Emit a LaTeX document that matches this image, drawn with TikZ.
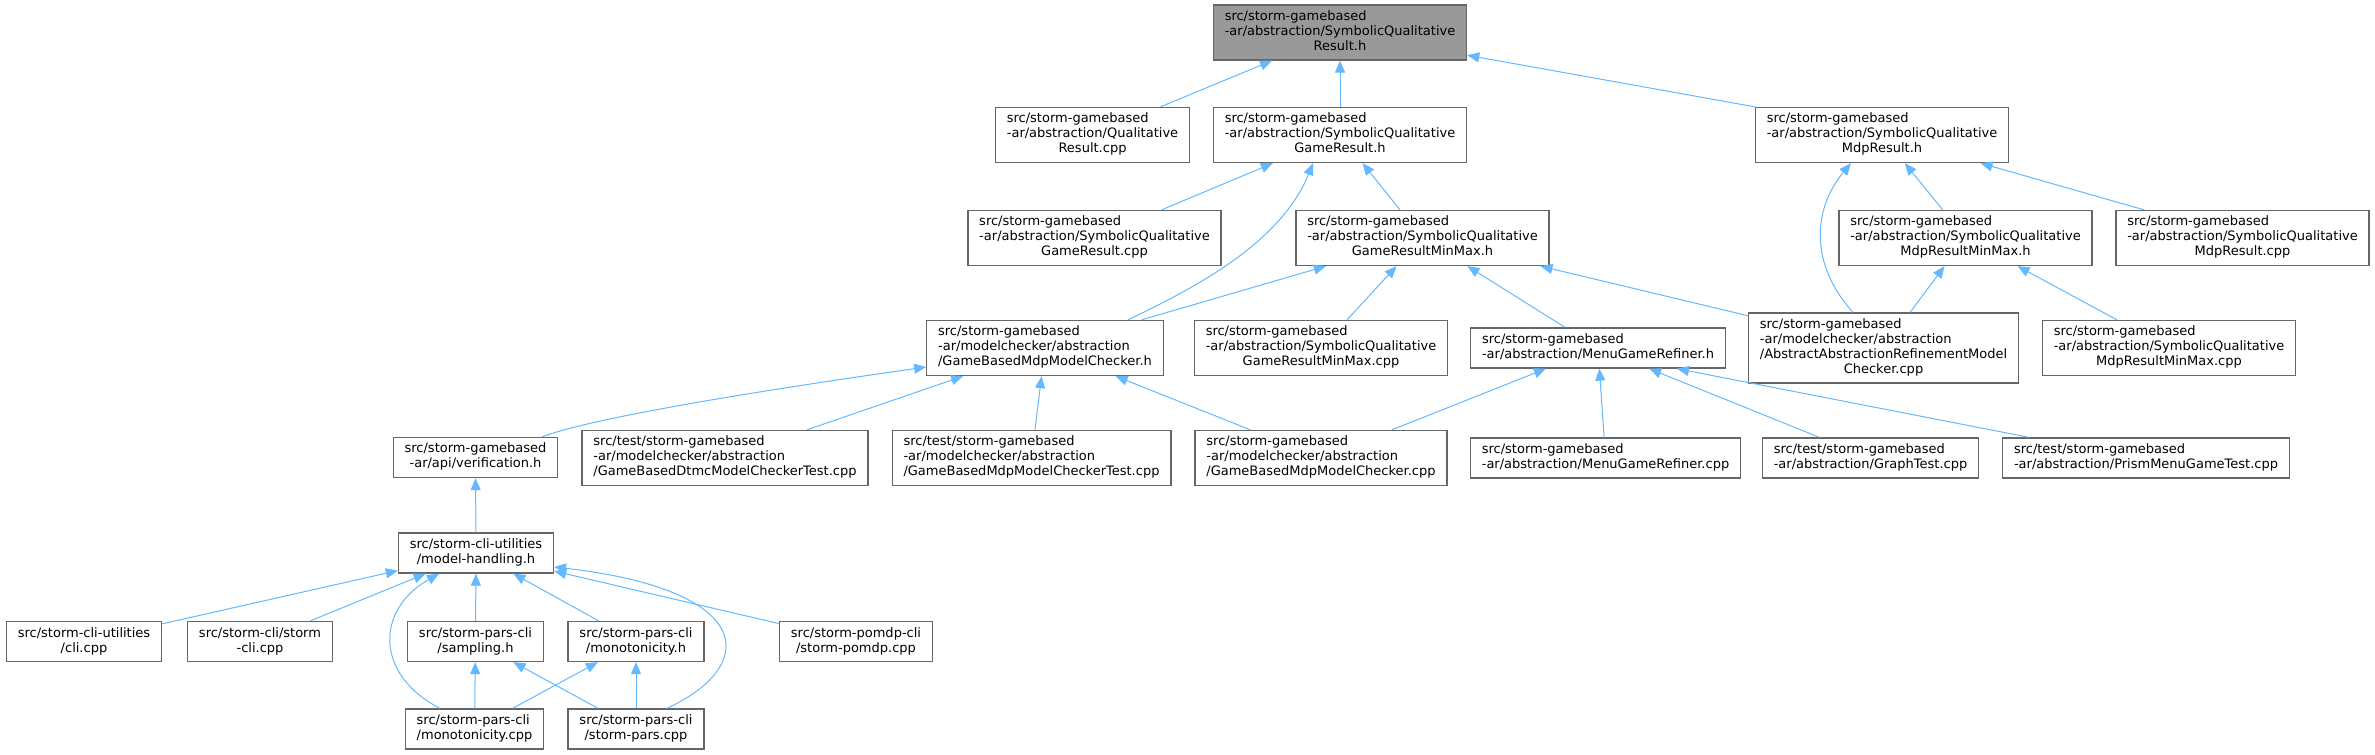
\documentclass[tikz,border=0pt]{standalone}
\usepackage{fontspec}
\setmainfont{DejaVu Sans}
\usepackage{tikz}
\usetikzlibrary{arrows.meta}
\definecolor{edgeblue}{HTML}{63B8FF}
\definecolor{boxgray}{HTML}{666666}
\definecolor{rootgray}{HTML}{999999}
% file name: all lines left, last line centred
\newcommand{\fname}[2]{\begin{tabular}{@{}l@{}}#1\\\multicolumn{1}{@{}c@{}}{#2}\end{tabular}}
\tikzset{
  file/.style={draw=boxgray, line width=1pt, fill=white, inner xsep=8.5pt, inner ysep=3.75pt,
    font=\fontsize{9.75}{11.25}\selectfont},
  rootfile/.style={file, fill=rootgray},
  inc/.style={edgeblue, line width=0.75pt, -{Triangle[length=9pt,width=7.5pt]}}
}

\begin{document}
\begin{tikzpicture}[x=0.75pt, y=-0.75pt]
            \useasboundingbox (0,0) rectangle (2375,755);
            % Draw the header and its direct includers
            \node[rootfile] (root) at (1340,32.5) {\fname{src/storm-gamebased\\-ar/abstraction/SymbolicQualitative}{Result.h}};
            \node[file] (qualcpp) at (1092.5,135) {\fname{src/storm-gamebased\\-ar/abstraction/Qualitative}{Result.cpp}};
            \node[file] (gameh) at (1340,135) {\fname{src/storm-gamebased\\-ar/abstraction/SymbolicQualitative}{GameResult.h}};
            \node[file] (mdph) at (1882,135) {\fname{src/storm-gamebased\\-ar/abstraction/SymbolicQualitative}{MdpResult.h}};
            % Third row
            \node[file] (gamecpp) at (1094.5,238) {\fname{src/storm-gamebased\\-ar/abstraction/SymbolicQualitative}{GameResult.cpp}};
            \node[file] (gameminmaxh) at (1422.5,238) {\fname{src/storm-gamebased\\-ar/abstraction/SymbolicQualitative}{GameResultMinMax.h}};
            \node[file] (mdpminmaxh) at (1965.5,238) {\fname{src/storm-gamebased\\-ar/abstraction/SymbolicQualitative}{MdpResultMinMax.h}};
            \node[file] (mdpcpp) at (2242.5,238) {\fname{src/storm-gamebased\\-ar/abstraction/SymbolicQualitative}{MdpResult.cpp}};
            % Fourth row
            \node[file] (gbmch) at (1045,348) {\fname{src/storm-gamebased\\-ar/modelchecker/abstraction}{/GameBasedMdpModelChecker.h}};
            \node[file] (gameminmaxcpp) at (1321,348) {\fname{src/storm-gamebased\\-ar/abstraction/SymbolicQualitative}{GameResultMinMax.cpp}};
            \node[file] (refinerh) at (1598,348) {\fname{src/storm-gamebased}{-ar/abstraction/MenuGameRefiner.h}};
            \node[file] (abstractcpp) at (1883.5,348) {\fname{src/storm-gamebased\\-ar/modelchecker/abstraction\\/AbstractAbstractionRefinementModel}{Checker.cpp}};
            \node[file] (mdpminmaxcpp) at (2169,348) {\fname{src/storm-gamebased\\-ar/abstraction/SymbolicQualitative}{MdpResultMinMax.cpp}};
            % Fifth row
            \node[file] (verifh) at (475.5,457.5) {\fname{src/storm-gamebased}{-ar/api/verification.h}};
            \node[file] (dtmctest) at (725,458) {\fname{src/test/storm-gamebased\\-ar/modelchecker/abstraction}{/GameBasedDtmcModelCheckerTest.cpp}};
            \node[file] (mdptest) at (1031.5,458) {\fname{src/test/storm-gamebased\\-ar/modelchecker/abstraction}{/GameBasedMdpModelCheckerTest.cpp}};
            \node[file] (gbmccpp) at (1321,458) {\fname{src/storm-gamebased\\-ar/modelchecker/abstraction}{/GameBasedMdpModelChecker.cpp}};
            \node[file] (refinercpp) at (1605.5,458) {\fname{src/storm-gamebased}{-ar/abstraction/MenuGameRefiner.cpp}};
            \node[file] (graphtest) at (1870.5,458) {\fname{src/test/storm-gamebased}{-ar/abstraction/GraphTest.cpp}};
            \node[file] (prismtest) at (2146,458) {\fname{src/test/storm-gamebased}{-ar/abstraction/PrismMenuGameTest.cpp}};
            % The cli part
            \node[file] (handlingh) at (476,553) {\fname{src/storm-cli-utilities}{/model-handling.h}};
            \node[file] (clicpp) at (84,641.5) {\fname{src/storm-cli-utilities}{/cli.cpp}};
            \node[file] (stormcli) at (260,641.5) {\fname{src/storm-cli/storm}{-cli.cpp}};
            \node[file] (samplingh) at (475.5,641.5) {\fname{src/storm-pars-cli}{/sampling.h}};
            \node[file] (monoh) at (636,641.5) {\fname{src/storm-pars-cli}{/monotonicity.h}};
            \node[file] (pomdpcpp) at (856,641.5) {\fname{src/storm-pomdp-cli}{/storm-pomdp.cpp}};
            \node[file] (monocpp) at (474.5,729) {\fname{src/storm-pars-cli}{/monotonicity.cpp}};
            \node[file] (parscpp) at (636,729) {\fname{src/storm-pars-cli}{/storm-pars.cpp}};
            % Draw the include edges
            \draw[inc] (qualcpp) -- (root);
            \draw[inc] (gameh) -- (root);
            \draw[inc] (mdph.north west) -- (root);
            \draw[inc] (gamecpp) -- (gameh);
            \draw[inc] (gameminmaxh) -- (gameh);
            \draw[inc] ([xshift=62.25pt]gbmch.north) .. controls (1190,290) and (1280,245) .. ([xshift=-20.25pt]gameh.south);
            \draw[inc] (mdpminmaxh) -- (mdph);
            \draw[inc] (mdpcpp) -- (mdph);
            \draw[inc] ([xshift=-22.9pt]abstractcpp.north) .. controls (1810,265) and (1812,210) .. ([xshift=-23.25pt]mdph.south);
            \draw[inc] (gbmch) -- (gameminmaxh);
            \draw[inc] (gameminmaxcpp) -- (gameminmaxh);
            \draw[inc] (refinerh) -- (gameminmaxh);
            \draw[inc] (abstractcpp) -- (gameminmaxh);
            \draw[inc] (abstractcpp) -- (mdpminmaxh);
            \draw[inc] (mdpminmaxcpp) -- (mdpminmaxh);
            \draw[inc] ([xshift=49.9pt]verifh.north) .. controls (600,415) and (800,385) .. ([yshift=-14.25pt]gbmch.west);
            \draw[inc] (dtmctest) -- (gbmch);
            \draw[inc] (mdptest) -- (gbmch);
            \draw[inc] (gbmccpp) -- (gbmch);
            \draw[inc] (gbmccpp) -- (refinerh);
            \draw[inc] (refinercpp) -- (refinerh);
            \draw[inc] (graphtest) -- (refinerh);
            \draw[inc] ([xshift=-87.75pt]prismtest.north) -- ([xshift=59.25pt]refinerh.south);
            \draw[inc] (handlingh) -- (verifh);
            \draw[inc] (clicpp) -- (handlingh);
            \draw[inc] (stormcli) -- (handlingh);
            \draw[inc] ([xshift=-25.9pt]monocpp.north) .. controls (375,675) and (375,610) .. ([xshift=-27.75pt]handlingh.south);
            \draw[inc] (samplingh) -- (handlingh);
            \draw[inc] (monoh) -- (handlingh);
            \draw[inc] ([xshift=23.25pt]parscpp.north) .. controls (760,665) and (755,590) .. ([yshift=-10.5pt]handlingh.east);
            \draw[inc] (pomdpcpp) -- (handlingh);
            \draw[inc] (monocpp) -- (samplingh);
            \draw[inc] (monocpp) -- (monoh);
            \draw[inc] (parscpp) -- (samplingh);
            \draw[inc] (parscpp) -- (monoh);
          \end{tikzpicture}
\end{document}
